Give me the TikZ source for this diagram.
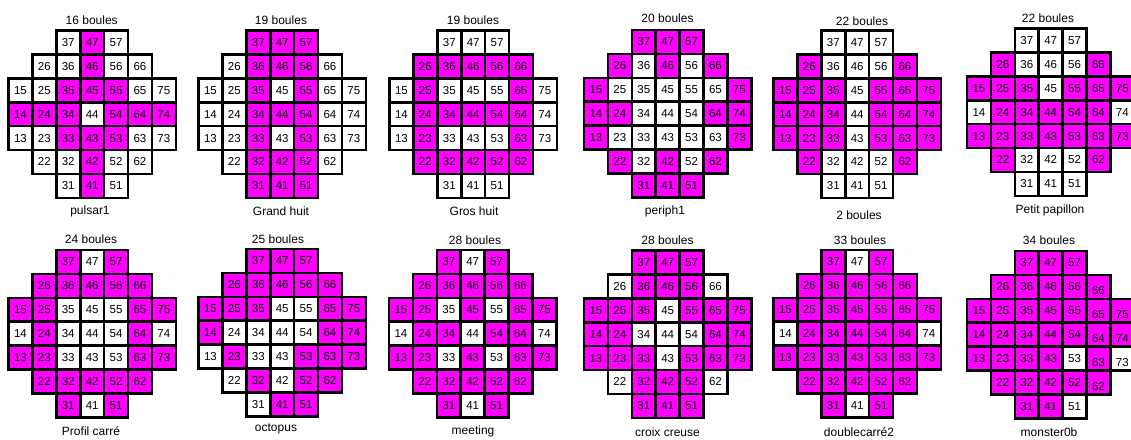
\documentclass[tikz,border=0pt]{standalone}
\usepackage{fontspec}
\setmainfont{Liberation Sans}
\definecolor{mag}{HTML}{FF00FF}
\tikzset{
  cell/.style={draw=black, line width=2.6pt, minimum size=23.9pt, inner sep=0pt, outer sep=0pt,
    font=\fontsize{11.5}{12}\selectfont, text=black},
  shifted/.style={text height=16pt, text depth=0pt},
  caption/.style={font=\fontsize{12}{13}\selectfont, inner sep=0pt, text=black}
}
% #1 id, #2 left x, #3 top y, #4 magenta cells
\newcommand\solboard[4]{%
  \foreach \m in {#4} {\expandafter\gdef\csname mg#1-\m\endcsname{}}%
  \foreach \c/\rlo/\rhi in {1/3/5,2/2/6,3/1/7,4/1/7,5/1/7,6/2/6,7/3/5} {
    \foreach \r in {\rlo,...,\rhi} {
      \pgfmathsetmacro\cx{#2+(\c-0.5)*23.9}
      \pgfmathsetmacro\cy{#3+(7-\r+0.5)*23.9}
      \ifcsname mg#1-\c\r\endcsname \def\cc{mag}\else\def\cc{white}\fi
      \def\extra{}%
      \ifnum#1=12 \ifnum\c>5 \def\extra{shifted}\fi\fi
      \node[cell, fill=\cc, \extra] (b#1-\c\r) at (\cx,\cy) {\c\r};
    }
  }%
}
\begin{document}
\begin{tikzpicture}[x=1pt,y=-1pt]
\useasboundingbox (0,0) rectangle (1131,439);
\fill[white] (0,0) rectangle (1131,439);
\clip (0,0) rectangle (1131,439);

% top row
\solboard{1}{8.5}{30.5}{47,46,35,45,55,14,24,34,54,64,74,33,43,53,42,41}
\solboard{2}{198.5}{30.5}{37,47,57,36,46,56,35,55,34,44,54,33,53,32,42,52,31,41,51}
\solboard{3}{389.5}{30.5}{26,36,46,56,66,25,65,24,34,44,54,64,23,63,22,32,42,52,62}
\solboard{4}{584}{30}{37,47,57,26,46,66,15,75,14,24,64,74,13,73,22,42,62,31,41,51}
\solboard{5}{773.5}{30.5}{26,66,15,25,35,55,65,75,14,24,34,54,64,74,13,23,33,53,63,73,22,62}
\solboard{6}{967}{28.5}{26,66,15,25,35,55,65,75,24,34,44,54,64,13,23,33,43,53,63,73,22,62}
% bottom row
\solboard{7}{8.5}{250}{37,57,26,36,46,56,66,15,25,65,75,24,64,13,23,63,73,22,32,42,52,62,31,51}
\solboard{8}{198.5}{249}{37,47,57,26,36,46,56,66,15,25,35,65,75,14,64,74,23,53,63,73,32,52,62,41,51}
\solboard{9}{389}{250}{37,57,26,36,46,56,66,15,25,45,65,75,24,34,54,64,13,23,43,63,73,22,32,42,52,62,31,51}
\solboard{10}{584}{250.5}{37,47,57,36,46,56,15,25,35,55,65,75,14,24,64,74,13,23,33,53,63,73,32,42,52,31,41,51}
\solboard{11}{773.5}{250}{37,57,26,36,46,56,66,15,25,35,45,55,65,75,24,34,44,54,64,13,23,33,43,53,63,73,22,32,42,52,62,31,51}
\solboard{12}{967}{251}{37,47,57,26,36,46,56,66,15,25,35,45,55,65,75,14,24,34,44,54,64,74,13,23,33,43,63,22,32,42,52,62,31,41}

% titles
\node[caption] (t1) at (91.7,20) {16 boules};
\node[caption] (t2) at (281,20) {19 boules};
\node[caption] (t3) at (473,20) {19 boules};
\node[caption] (t4) at (667.5,18.5) {20 boules};
\node[caption] (t5) at (862,21) {22 boules};
\node[caption] (t6) at (1048,18) {22 boules};
\node[caption] (t7) at (91,239.5) {24 boules};
\node[caption] (t8) at (278,239) {25 boules};
\node[caption] (t9) at (475,240) {28 boules};
\node[caption] (t10) at (667.5,240) {28 boules};
\node[caption] (t11) at (860,240) {33 boules};
\node[caption] (t12) at (1049,240) {34 boules};
% names
\node[caption] (l1) at (90,211.5) {pulsar1};
\node[caption] (l2) at (281,211.5) {Grand huit};
\node[caption] (l3) at (474,211.5) {Gros huit};
\node[caption] (l4) at (665,211) {periph1};
\node[caption] (l5) at (859,215.5) {2 boules};
\node[caption] (l6) at (1050,210) {Petit papillon};
\node[caption] (l7) at (91,431) {Profil carré};
\node[caption] (l8) at (276,429) {octopus};
\node[caption] (l9) at (473,431) {meeting};
\node[caption] (l10) at (667.5,432.5) {croix creuse};
\node[caption] (l11) at (859,432.5) {doublecarré2};
\node[caption] (l12) at (1049,432.5) {monster0b};
\end{tikzpicture}
\end{document}
